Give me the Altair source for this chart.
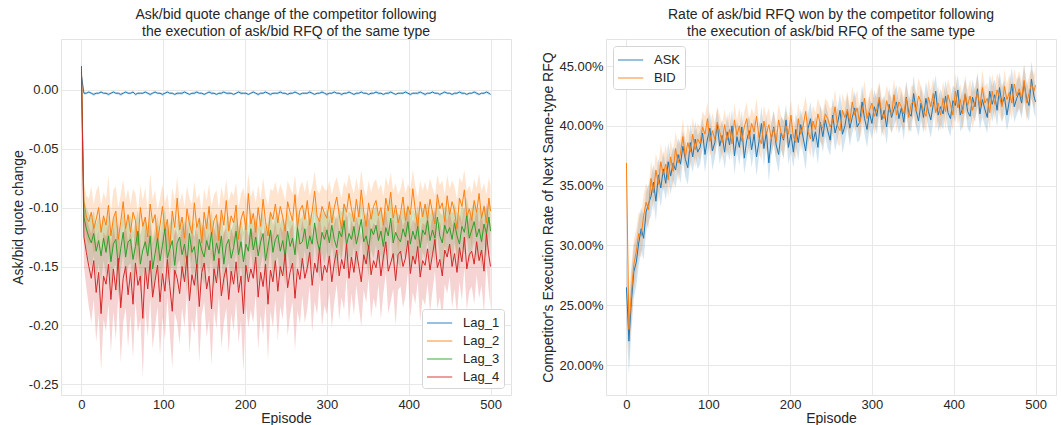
import altair as alt
import pandas as pd

# Episodes: every 3rd episode, plus the last one
EPISODES = list(range(0, 500, 3)) + [500]

LAGS = ["Lag_1", "Lag_2", "Lag_3", "Lag_4"]
LAG_COLORS = ["#1f77b4", "#ff7f0e", "#2ca02c", "#d62728"]
SIDES = ["ASK", "BID"]
SIDE_COLORS = ["#1f77b4", "#ff7f0e"]

# ---- Left panel: quote change, values in thousandths ----
LAG1 = [12, -3, -3, -2, -3, -4, -3, -3, -2, -3,
        -3, -4, -3, -2, -3, -3, -4, -3, -2, -3,
        -3, -2, -4, -3, -3, -3, -2, -3, -4, -3,
        -2, -3, -3, -4, -3, -2, -3, -3, -4, -3,
        -3, -3, -2, -3, -4, -3, -3, -2, -3, -3,
        -4, -3, -2, -3, -3, -4, -3, -3, -2, -3,
        -3, -3, -4, -3, -2, -3, -3, -3, -4, -3,
        -2, -3, -4, -3, -3, -2, -3, -4, -3, -3,
        -3, -2, -3, -3, -4, -3, -3, -2, -3, -4,
        -3, -3, -3, -2, -3, -4, -3, -3, -2, -3,
        -4, -3, -3, -2, -3, -3, -4, -3, -3, -2,
        -3, -4, -3, -3, -2, -3, -3, -4, -3, -3,
        -2, -3, -3, -4, -3, -3, -2, -3, -4, -3,
        -3, -3, -2, -3, -4, -3, -3, -3, -2, -3,
        -4, -3, -3, -2, -3, -3, -4, -3, -2, -3,
        -3, -4, -3, -3, -2, -3, -3, -4, -3, -3,
        -2, -3, -4, -3, -3, -2, -3, -4]
LAG1_HW = [3, 1.5, 1, 1, 1, 1.5, 1, 1, 1, 1,
           1, 1.5, 1, 1, 1, 1, 1.5, 1, 1, 1,
           1, 1, 1.5, 1, 1, 1, 1, 1, 1.5, 1,
           1, 1, 1, 1.5, 1, 1, 1, 1, 1, 1.5,
           1, 1.5, 1, 1, 1, 1, 1.5, 1, 1, 1,
           1, 1, 1, 1.5, 1, 1, 1, 1.5, 1, 1,
           1.5, 1, 1, 1, 1, 1.5, 1, 1, 1, 1,
           1, 1, 1.5, 1, 1, 1, 1, 1.5, 1, 1,
           1, 1.5, 1, 1, 1, 1.5, 1, 1, 1, 1,
           1, 1, 1, 1.5, 1, 1, 1, 1, 1.5, 1,
           1.5, 1, 1, 1, 1, 1, 1.5, 1, 1, 1,
           1, 1, 1.5, 1, 1, 1, 1, 1, 1.5, 1,
           1, 1.5, 1, 1, 1, 1.5, 1, 1, 1, 1,
           1, 1, 1, 1, 1.5, 1, 1, 1.5, 1, 1,
           1.5, 1, 1, 1, 1, 1, 1.5, 1, 1, 1,
           1, 1, 1.5, 1, 1, 1.5, 1, 1, 1, 1,
           1, 1.5, 1, 1, 1, 1, 1.5, 1]

LAG2 = [15, -95, -108, -112, -104, -118, -110, -100, -121, -107,
        -115, -98, -124, -109, -103, -127, -112, -95, -118, -106,
        -121, -104, -111, -132, -100, -116, -108, -125, -97, -113,
        -106, -128, -115, -99, -120, -110, -134, -103, -117, -92,
        -119, -108, -126, -101, -114, -122, -96, -117, -109, -130,
        -104, -118, -99, -125, -111, -106, -128, -102, -115, -94,
        -120, -107, -113, -98, -127, -110, -103, -119, -88, -114,
        -105, -121, -100, -116, -93, -112, -124, -104, -110, -97,
        -113, -99, -108, -120, -95, -104, -111, -89, -117, -102,
        -98, -110, -94, -115, -103, -86, -107, -112, -99, -105,
        -109, -95, -113, -100, -91, -106, -118, -97, -104, -88,
        -101, -112, -93, -108, -85, -104, -116, -96, -110, -99,
        -94, -107, -100, -115, -92, -103, -87, -109, -98, -113,
        -105, -91, -111, -99, -106, -84, -102, -117, -95, -108,
        -97, -110, -93, -104, -114, -89, -101, -96, -112, -90,
        -106, -95, -103, -118, -92, -99, -85, -108, -101, -111,
        -94, -104, -88, -109, -99, -113, -92, -103]
LAG2_HW = [5, 15, 18, 20, 22, 21, 24, 19, 23, 20,
           22, 25, 20, 24, 21, 27, 23, 19, 25, 22,
           24, 20, 23, 28, 19, 22, 25, 21, 26, 20,
           21, 26, 23, 19, 24, 22, 28, 20, 23, 18,
           23, 21, 27, 19, 22, 25, 18, 24, 21, 26,
           20, 24, 19, 26, 22, 21, 27, 20, 23, 18,
           25, 21, 23, 19, 27, 22, 20, 24, 17, 23,
           21, 25, 19, 23, 18, 22, 26, 20, 24, 19,
           24, 19, 22, 26, 18, 21, 23, 17, 25, 20,
           20, 23, 18, 25, 21, 17, 22, 24, 19, 21,
           23, 18, 24, 20, 17, 22, 26, 19, 21, 17,
           20, 24, 18, 22, 17, 21, 25, 19, 23, 20,
           18, 22, 20, 25, 18, 21, 17, 23, 19, 24,
           21, 17, 23, 19, 22, 16, 20, 25, 18, 22,
           19, 23, 18, 21, 24, 17, 20, 19, 23, 18,
           22, 18, 21, 25, 18, 20, 17, 22, 20, 23,
           18, 21, 17, 23, 20, 24, 18, 21]

LAG3 = [15, -108, -118, -125, -130, -122, -137, -128, -141, -126,
        -138, -124, -146, -131, -127, -150, -135, -121, -142, -129,
        -127, -144, -133, -120, -148, -136, -129, -141, -124, -152,
        -139, -126, -145, -132, -118, -143, -135, -128, -149, -130,
        -125, -140, -131, -147, -122, -138, -133, -151, -127, -136,
        -142, -128, -136, -121, -145, -130, -139, -124, -148, -132,
        -127, -143, -134, -120, -140, -129, -146, -131, -137, -118,
        -136, -125, -141, -129, -122, -145, -133, -119, -138, -127,
        -123, -137, -128, -142, -120, -133, -126, -140, -117, -131,
        -129, -118, -135, -124, -131, -113, -128, -137, -121, -127,
        -119, -130, -115, -127, -134, -120, -125, -111, -132, -122,
        -127, -116, -131, -121, -110, -129, -124, -135, -118, -123,
        -115, -128, -120, -133, -117, -124, -109, -130, -121, -126,
        -129, -118, -125, -112, -131, -120, -127, -116, -134, -119,
        -123, -111, -128, -119, -126, -108, -124, -130, -115, -122,
        -117, -127, -113, -124, -131, -116, -121, -107, -126, -119,
        -112, -125, -118, -129, -114, -122, -108, -120]
LAG3_HW = [5, 16, 18, 20, 21, 19, 23, 20, 22, 19,
           21, 19, 24, 20, 22, 25, 20, 18, 23, 21,
           20, 23, 21, 18, 25, 22, 20, 24, 19, 26,
           22, 19, 24, 21, 18, 23, 22, 20, 25, 19,
           19, 23, 20, 25, 18, 22, 21, 26, 20, 22,
           24, 20, 22, 18, 25, 21, 23, 19, 26, 20,
           20, 24, 21, 18, 23, 20, 25, 21, 22, 17,
           22, 19, 24, 20, 18, 25, 21, 17, 23, 20,
           19, 23, 20, 24, 18, 21, 19, 23, 17, 21,
           21, 18, 23, 19, 22, 17, 20, 24, 18, 21,
           18, 22, 17, 20, 24, 19, 21, 16, 23, 19,
           21, 17, 22, 19, 16, 21, 20, 24, 18, 20,
           17, 21, 19, 23, 17, 20, 16, 22, 19, 21,
           22, 18, 20, 16, 23, 19, 21, 18, 24, 19,
           20, 16, 22, 18, 21, 16, 20, 23, 17, 20,
           18, 22, 17, 20, 23, 18, 19, 16, 21, 19,
           17, 21, 19, 23, 17, 20, 16, 20]

LAG4 = [20, -125, -138, -150, -160, -145, -172, -155, -190, -158,
        -165, -148, -178, -152, -170, -143, -185, -160, -150, -174,
        -155, -182, -147, -166, -158, -194, -151, -169, -145, -176,
        -162, -149, -180, -156, -171, -144, -167, -188, -153, -160,
        -173, -150, -163, -141, -179, -157, -166, -148, -184, -155,
        -147, -169, -158, -186, -152, -164, -143, -175, -160, -151,
        -178, -154, -165, -146, -172, -158, -190, -149, -163, -152,
        -160, -142, -176, -155, -167, -148, -182, -153, -163, -145,
        -171, -150, -158, -139, -168, -155, -147, -177, -152, -161,
        -143, -160, -151, -138, -166, -147, -155, -134, -162, -149,
        -155, -141, -163, -147, -136, -158, -144, -152, -131, -160,
        -142, -155, -137, -150, -163, -140, -148, -132, -157, -145,
        -151, -136, -158, -142, -129, -154, -147, -139, -162, -140,
        -137, -150, -143, -128, -156, -141, -148, -133, -159, -145,
        -149, -135, -153, -140, -127, -151, -144, -158, -136, -142,
        -131, -150, -139, -155, -134, -146, -125, -152, -140, -137,
        -148, -129, -145, -136, -154, -122, -141, -150]
LAG4_HW = [8, 25, 30, 34, 38, 33, 42, 36, 48, 37,
           40, 34, 45, 36, 42, 32, 47, 38, 35, 44,
           36, 46, 33, 40, 37, 50, 35, 41, 33, 44,
           39, 35, 45, 37, 42, 32, 40, 48, 36, 38,
           43, 35, 39, 31, 45, 37, 41, 34, 47, 36,
           33, 41, 37, 48, 35, 39, 32, 44, 38, 34,
           45, 36, 40, 33, 43, 38, 49, 34, 39, 35,
           38, 32, 44, 36, 41, 34, 47, 35, 39, 33,
           42, 34, 37, 30, 41, 36, 33, 44, 35, 38,
           32, 38, 35, 29, 40, 33, 36, 30, 39, 34,
           36, 31, 39, 33, 29, 37, 32, 35, 28, 38,
           31, 36, 29, 34, 38, 30, 33, 28, 37, 32,
           35, 29, 37, 31, 27, 36, 33, 30, 38, 30,
           30, 35, 32, 27, 37, 31, 34, 29, 38, 32,
           34, 29, 36, 31, 27, 35, 32, 37, 29, 31,
           28, 35, 30, 36, 29, 33, 26, 35, 31, 30,
           34, 28, 32, 30, 36, 26, 31, 35]

# ---- Right panel: execution rate, values in percent ----
ASK = [26.5, 22.0, 25.3, 27.8, 28.6, 30.2, 31.4, 30.6, 32.8, 33.5,
       34.1, 35.3, 33.7, 35.9, 34.8, 36.4, 35.2, 37.0, 35.8, 36.9,
       36.3, 37.6, 36.8, 38.3, 37.2, 36.5, 38.6, 37.4, 38.9, 37.8,
       38.2, 39.4, 37.6, 38.9, 39.8, 37.9, 38.6, 40.1, 38.3, 39.2,
       37.8, 39.5, 38.4, 40.0, 37.5, 39.1, 38.2, 39.9, 37.3, 38.8,
       39.6, 38.0, 39.3, 37.4, 38.7, 40.2, 38.1, 39.5, 36.9, 38.9,
       39.9, 38.4, 37.6, 39.4, 38.8, 40.5, 38.2, 39.3, 37.8, 39.7,
       38.6, 40.1, 39.0, 37.9, 39.8, 40.6, 38.7, 39.5, 38.2, 40.3,
       39.1, 40.5, 39.6, 38.8, 40.9, 39.4, 40.2, 41.3, 39.3, 40.0,
       41.2, 39.8, 40.7, 41.5, 39.9, 40.3, 42.0, 40.6, 39.7, 41.1,
       40.2, 41.6, 40.8, 42.2, 40.5, 41.3, 39.9, 41.8, 40.7, 41.4,
       42.0, 40.6, 41.5, 40.3, 42.4, 41.1, 40.8, 42.7, 41.3, 40.4,
       41.9, 40.7, 42.3, 41.2, 40.5, 41.8, 42.9, 40.9, 41.6, 41.0,
       42.5, 41.1, 40.6, 42.1, 41.7, 43.0, 40.9, 41.5, 42.6, 41.2,
       40.8, 42.4, 41.6, 43.1, 41.0, 42.2, 41.4, 40.7, 42.9, 41.8,
       42.6, 41.3, 43.2, 41.8, 42.4, 40.9, 42.1, 43.5, 41.6, 42.3,
       42.8, 41.9, 43.6, 42.3, 41.7, 43.9, 42.5, 42.0]
ASK_HW = [30, 28, 25, 22, 20, 19, 18, 18, 17, 16,
          16, 15, 17, 14, 16, 15, 14, 16, 15, 14,
          15, 14, 16, 13, 15, 14, 16, 13, 15, 14,
          14, 13, 15, 13, 14, 16, 13, 14, 15, 13,
          14, 15, 13, 14, 16, 13, 15, 14, 13, 15,
          13, 15, 14, 16, 13, 14, 15, 13, 16, 14,
          14, 13, 15, 14, 16, 13, 14, 15, 13, 14,
          15, 13, 14, 16, 13, 14, 15, 13, 14, 15,
          13, 14, 15, 13, 14, 15, 13, 14, 16, 13,
          14, 15, 13, 14, 13, 15, 14, 13, 15, 14,
          13, 14, 15, 13, 14, 13, 15, 14, 13, 14,
          14, 13, 14, 15, 13, 14, 13, 15, 14, 13,
          15, 13, 14, 13, 15, 14, 13, 14, 15, 13,
          13, 14, 15, 13, 14, 13, 14, 15, 13, 14,
          14, 15, 13, 14, 13, 15, 14, 13, 14, 15,
          13, 14, 13, 15, 14, 13, 15, 14, 13, 14,
          14, 13, 15, 14, 13, 15, 14, 13]

BID = [36.9, 23.0, 26.0, 28.4, 29.5, 31.0, 30.8, 32.5, 33.6, 33.0,
       35.6, 34.4, 36.3, 35.1, 37.0, 35.9, 36.8, 35.5, 37.4, 36.2,
       38.1, 36.9, 37.7, 39.1, 37.4, 38.6, 37.8, 39.3, 38.0, 38.9,
       38.5, 39.9, 39.3, 40.6, 38.7, 39.6, 38.9, 40.3, 39.5, 38.6,
       40.1, 38.8, 39.7, 38.5, 40.5, 39.2, 40.0, 38.7, 39.9, 40.6,
       38.9, 40.2, 39.5, 40.8, 39.0, 38.5, 40.4, 39.3, 40.1, 38.9,
       39.8, 38.7, 40.5, 39.4, 38.9, 40.0, 39.3, 40.9, 39.1, 38.6,
       40.6, 39.3, 40.0, 41.2, 39.5, 38.9, 40.4, 39.7, 41.0, 40.1,
       39.8, 41.0, 40.6, 39.9, 40.4, 41.6, 40.0, 39.6, 41.3, 40.7,
       41.4, 40.3, 42.0, 40.9, 41.5, 40.2, 41.1, 42.3, 40.6, 41.3,
       41.9, 40.8, 41.4, 42.4, 41.0, 40.6, 42.1, 41.3, 40.9, 42.6,
       40.9, 42.0, 41.6, 41.0, 42.3, 40.7, 41.8, 42.1, 41.2, 42.5,
       42.0, 41.3, 40.8, 42.4, 41.6, 42.7, 41.1, 41.9, 40.9, 42.3,
       41.2, 42.6, 41.8, 40.9, 42.9, 41.5, 42.2, 41.0, 42.7, 41.7,
       42.5, 41.3, 42.0, 42.8, 41.6, 43.2, 41.9, 42.3, 41.1, 42.9,
       41.8, 43.0, 42.4, 41.6, 43.3, 42.2, 42.8, 41.9, 43.5, 42.5,
       43.1, 42.3, 43.8, 41.9, 42.7, 43.5, 42.9, 43.4]
BID_HW = [20, 26, 24, 21, 19, 18, 18, 17, 16, 16,
          15, 16, 14, 16, 15, 14, 16, 15, 14, 15,
          14, 15, 13, 15, 14, 16, 13, 14, 15, 13,
          14, 13, 15, 14, 13, 15, 14, 13, 14, 15,
          13, 14, 15, 13, 14, 13, 15, 14, 13, 14,
          15, 13, 14, 15, 13, 14, 13, 15, 14, 13,
          14, 15, 13, 14, 15, 13, 14, 13, 15, 14,
          13, 14, 15, 13, 14, 15, 13, 14, 13, 15,
          14, 13, 14, 15, 13, 14, 15, 13, 14, 13,
          15, 14, 13, 14, 15, 13, 14, 15, 13, 14,
          13, 15, 14, 13, 14, 15, 13, 14, 15, 13,
          14, 13, 15, 14, 13, 14, 15, 13, 14, 15,
          13, 14, 13, 15, 14, 13, 14, 15, 13, 14,
          15, 13, 14, 13, 15, 14, 13, 14, 15, 13,
          14, 15, 13, 14, 13, 15, 14, 13, 14, 15,
          13, 14, 15, 13, 14, 13, 15, 14, 13, 14,
          15, 14, 13, 15, 14, 13, 14, 15]

FONT = "Liberation Sans"
TXT = "#262626"


def build(names, means, hws, scale, hw_scale):
    rows = []
    for name, vals, hw in zip(names, means, hws):
        assert len(vals) == len(EPISODES) == len(hw), (name, len(vals), len(hw), len(EPISODES))
        for ep, v, h in zip(EPISODES, vals, hw):
            rows.append({"Episode": ep, "series": name,
                         "mean": v / scale,
                         "lo": v / scale - h / hw_scale,
                         "hi": v / scale + h / hw_scale})
    return pd.DataFrame(rows)


df_l = build(LAGS, [LAG1, LAG2, LAG3, LAG4], [LAG1_HW, LAG2_HW, LAG3_HW, LAG4_HW], 1000.0, 1000.0)
df_r = build(SIDES, [ASK, BID], [ASK_HW, BID_HW], 100.0, 1000.0)

W, H = 450, 356
xsc = alt.Scale(domain=[-25, 525], nice=False, zero=False)
x_axis = alt.Axis(values=[0, 100, 200, 300, 400, 500], format="d", title="Episode",
                  labelPadding=3, titlePadding=0)


def title(lines):
    return alt.Title(lines, fontSize=14, font=FONT, fontWeight="normal", color=TXT,
                     anchor="middle", offset=0, lineHeight=17)


def panel(df, names, colors, ysc, yaxis, orient, ttl):
    cscale = alt.Scale(domain=names, range=colors)
    leg = alt.Legend(title=None, orient=orient, offset=7)
    band = alt.Chart(df).mark_area(opacity=0.2, strokeWidth=0).encode(
        x=alt.X("Episode:Q", scale=xsc, axis=x_axis),
        y=alt.Y("lo:Q", scale=ysc, axis=yaxis),
        y2="hi:Q",
        color=alt.Color("series:N", scale=cscale, legend=leg),
    )
    line = alt.Chart(df).mark_line(strokeWidth=1).encode(
        x=alt.X("Episode:Q", scale=xsc, axis=x_axis),
        y=alt.Y("mean:Q", scale=ysc, axis=yaxis),
        color=alt.Color("series:N", scale=cscale, legend=leg),
    )
    return alt.layer(band, line).properties(width=W, height=H, title=title(ttl))


left = panel(
    df_l, LAGS, LAG_COLORS,
    alt.Scale(domain=[-0.259, 0.043], nice=False, zero=False),
    alt.Axis(values=[-0.25, -0.2, -0.15, -0.1, -0.05, 0.0],
             labelExpr="(datum.value < -0.0001 ? '-' : '') + format(abs(datum.value), '.2f')",
             title="Ask/bid quote change", labelPadding=3, titlePadding=3),
    "bottom-right",
    ["Ask/bid quote change of the competitor following",
     " the execution of ask/bid RFQ of the same type"],
)

right = panel(
    df_r, SIDES, SIDE_COLORS,
    alt.Scale(domain=[0.175, 0.4726], nice=False, zero=False),
    alt.Axis(values=[0.20, 0.25, 0.30, 0.35, 0.40, 0.45], format=".2%",
             title="Competitor's Execution Rate of Next Same-type RFQ",
             labelPadding=3, titlePadding=3),
    "top-left",
    ["Rate of ask/bid RFQ won by the competitor following",
     " the execution of ask/bid RFQ of the same type"],
)

chart = alt.hconcat(left, right, spacing=29).resolve_scale(
    color="independent"
).resolve_legend(color="independent").properties(
    padding={"left": 10, "top": 7, "right": 3, "bottom": 0},
    background="white",
).configure_view(
    stroke="#e3e3e3", strokeWidth=1,
).configure_axis(
    domain=False, ticks=False, grid=True, gridColor="#e8e8e8", gridWidth=1,
    labelFont=FONT, labelFontSize=13, labelColor=TXT,
    titleFont=FONT, titleFontSize=14, titleFontWeight="normal", titleColor=TXT,
).configure_legend(
    labelFont=FONT, labelFontSize=13, labelColor=TXT,
    fillColor="white", strokeColor="#d5d5d5", padding=4, cornerRadius=3,
    symbolType="M-1,0H1.8", symbolSize=324, symbolStrokeWidth=1.5, symbolOpacity=0.6,
    labelOffset=17, rowPadding=1,
)

chart.save("out.html", embed_options={"renderer": "svg", "actions": False})
